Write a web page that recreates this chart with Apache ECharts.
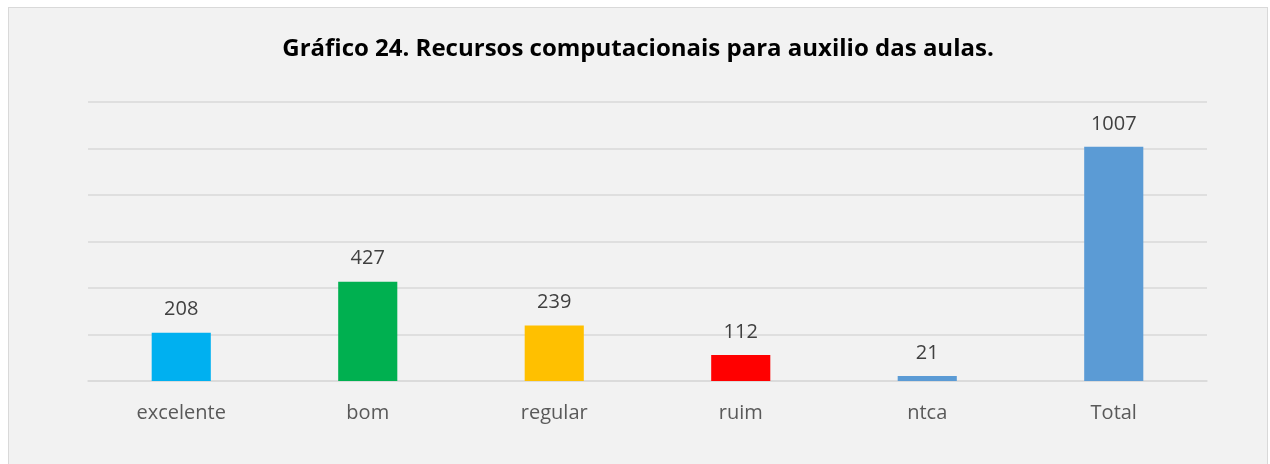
<!DOCTYPE html>
<html>
<head>
<meta charset="utf-8">
<script src="https://cdn.jsdelivr.net/npm/echarts@6/dist/echarts.min.js"></script>
<style>
  html, body { margin: 0; padding: 0; background: #fff; width: 1270px; height: 464px; overflow: hidden; }
  #chart { position: absolute; left: 8px; top: 7px; width: 1258px; height: 470px;
           border: 1px solid #d9d9d9; background: #f2f2f2; }
</style>
</head>
<body>
<div id="chart"></div>
<script>
  // dados do gráfico
  var categorias = ['excelente', 'bom', 'regular', 'ruim', 'ntca', 'Total'];
  var valores = [208, 427, 239, 112, 21, 1007];
  var cores = ['#00b0f0', '#00b050', '#ffc000', '#ff0000', '#5b9bd5', '#5b9bd5'];

  var chart = echarts.init(document.getElementById('chart'));

  var option = {
    title: {
      text: 'Gráfico 24. Recursos computacionais para auxilio das aulas.',
      left: 'center',
      top: 24,
      textStyle: { fontFamily: 'Open Sans', fontWeight: 'bold', fontSize: 24, color: '#000' }
    },
    grid: { left: 79, right: 60, top: 94, height: 279 },
    xAxis: {
      type: 'category',
      data: categorias,
      axisLine: { lineStyle: { color: '#d9d9d9', width: 1.5 } },
      axisTick: { show: false },
      axisLabel: { color: '#595959', fontSize: 20, fontFamily: 'Open Sans', margin: 22 }
    },
    yAxis: {
      type: 'value',
      min: 0,
      max: 1200,
      interval: 200,
      axisLabel: { show: false },
      axisLine: { show: false },
      axisTick: { show: false },
      splitLine: { lineStyle: { color: '#d9d9d9', width: 1.5 } }
    },
    series: [{
      type: 'bar',
      barWidth: '31.7%',
      data: valores.map(function (v, i) {
        return { value: v, itemStyle: { color: cores[i] } };
      }),
      label: {
        show: true,
        position: 'top',
        distance: 13,
        color: '#404040',
        fontSize: 20,
        fontFamily: 'Open Sans'
      }
    }]
  };

  chart.setOption(option);
</script>
</body>
</html>
